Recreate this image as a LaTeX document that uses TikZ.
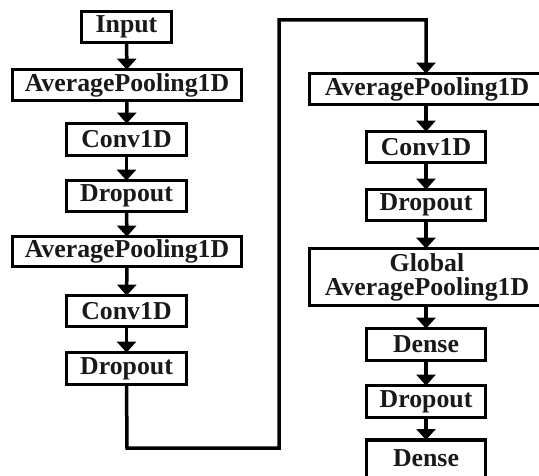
\documentclass[tikz,border=0pt]{standalone}
\usepackage{fontspec}
\setmainfont{Liberation Serif}
\usetikzlibrary{arrows.meta}
\tikzset{
  blk/.style={draw, line width=3.2pt, rectangle, inner sep=0pt, outer sep=0pt,
    font=\bfseries\fontsize{25.8}{26}\selectfont, text=black!90},
  arr/.style={line width=3.5pt, -{Triangle[width=19pt,length=11pt]}}
}
\newcommand{\blkat}[6]{% name, x1, x2, y1, y2, text
  \node[blk, minimum width={#3-#2-3.2}, minimum height={#5-#4-3.2}] (#1) at ({(#2+#3)/2},{(#4+#5)/2}) {#6};}
\begin{document}
\begin{tikzpicture}[x=1pt,y=-1pt]
\useasboundingbox (0,0) rectangle (539,476);
% left column
\blkat{in1}{80}{173}{10}{44}{Input}
\blkat{ap1}{11}{243}{68}{102}{AveragePooling1D}
\blkat{cv1}{65}{188}{122}{157}{Conv1D}
\blkat{dr1}{65}{188}{179}{213}{Dropout}
\blkat{ap2}{11}{243}{235}{268}{AveragePooling1D}
\blkat{cv2}{65}{188}{294}{328}{Conv1D}
\blkat{dr2}{65}{188}{351}{386}{Dropout}
% right column
\blkat{ap3}{308}{546}{72}{106}{AveragePooling1D}
\blkat{cv3}{365}{487}{130}{164}{Conv1D}
\blkat{dr3}{365}{487}{188}{222}{Dropout}
\node[blk, minimum width={238-3.2}, minimum height={60-3.2}, align=center] (gap) at (427,277) {Global\\[-2pt]AveragePooling1D};
\blkat{de1}{365}{487}{327}{362}{Dense}
\blkat{dr4}{365}{487}{384}{419}{Dropout}
\node[blk, minimum width={122-3.2}, minimum height={44-3.2}, anchor=north] (de2) at (426,440) {\raisebox{5pt}{Dense}};
% arrows
\draw[arr] (in1) -- (ap1);
\draw[arr] (ap1) -- (cv1);
\draw[arr] (cv1) -- (dr1);
\draw[arr] (dr1) -- (ap2);
\draw[arr] (ap2) -- (cv2);
\draw[arr] (cv2) -- (dr2);
\coordinate (b1) at (127,448);
\coordinate (b2) at (279,448);
\coordinate (t1) at (279,20);
\coordinate (t2) at (426,20);
\draw[arr, line join=miter] (dr2.south) -- (b1) -- (b2) -- (t1) -- (t2) -- (ap3.north -| t2);
\draw[arr] (ap3.south -| cv3) -- (cv3);
\draw[arr] (cv3) -- (dr3);
\draw[arr] (dr3) -- (gap.north -| dr3);
\draw[arr] (gap.south -| de1) -- (de1);
\draw[arr] (de1) -- (dr4);
\draw[arr] (dr4) -- (de2);
\end{tikzpicture}
\end{document}
